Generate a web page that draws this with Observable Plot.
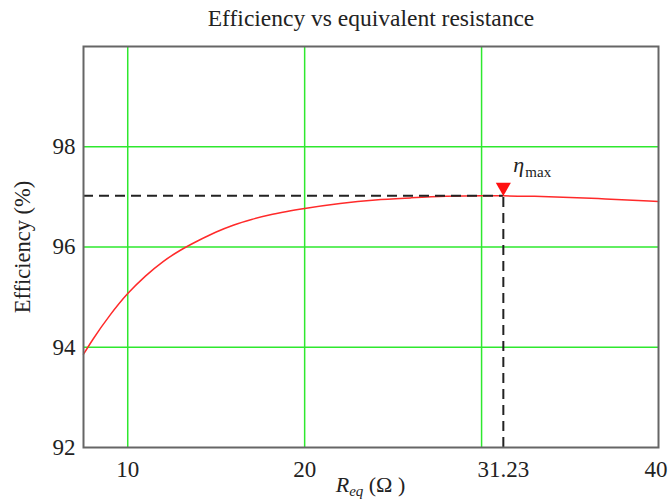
<!DOCTYPE html>
<html>
<head>
<meta charset="utf-8">
<script src="https://cdn.jsdelivr.net/npm/d3@7"></script>
<script src="https://cdn.jsdelivr.net/npm/@observablehq/plot@0.6"></script>
<style>
  body { margin: 0; background: #fff; }
  #chart svg { display: block; }
</style>
</head>
<body>
<div id="chart"></div>
<script>
// Efficiency (%) against equivalent load resistance R_eq (Ω)
const resistance = [7.5, 8, 9, 10, 11, 12, 13, 14, 15, 16, 17, 18, 19, 20, 22, 24, 26, 28, 30, 31.23, 33, 35, 37, 40];
const efficiency = [93.86, 94.14, 94.64, 95.07, 95.42, 95.71, 95.94, 96.13, 96.3, 96.44, 96.55, 96.64, 96.71, 96.77, 96.87, 96.94, 96.98, 97.01, 97.02, 97.02, 97.01, 96.99, 96.96, 96.91];

// Operating point of maximum efficiency
const peakR = 31.23;
const peakEff = 97.02;

const xTicks = [10, 20, 31.23];
const xLastTick = [40];
const xGrid = [10, 20, 30];
const yTicks = [92, 94, 96, 98];
const yGrid = [94, 96, 98];
const xDomain = [7.5, 40];
const yDomain = [92, 100];

const title = "Efficiency vs equivalent resistance";
const yLabel = "Efficiency (%)";

const curve = resistance.map((r, i) => ({r, eff: efficiency[i]}));
const peak = [{r: peakR, eff: peakEff}];

const serif = "'Liberation Serif', 'Times New Roman', serif";
const grid = "#2ee82e";

const chart = Plot.plot({
  width: 668,
  height: 501,
  marginTop: 46,
  marginBottom: 54,
  marginLeft: 83,
  marginRight: 10,
  style: {fontFamily: serif, fontSize: "23px", color: "#222", background: "#fff"},
  x: {domain: xDomain},
  y: {domain: yDomain},
  marks: [
    Plot.ruleX(xGrid, {stroke: grid, strokeWidth: 1.5}),
    Plot.ruleY(yGrid, {stroke: grid, strokeWidth: 1.5}),
    Plot.line(curve, {x: "r", y: "eff", stroke: "#ff2a2a", strokeWidth: 1.5, curve: "monotone-x"}),
    Plot.ruleY([peakEff], {x1: xDomain[0], x2: peakR, stroke: "#222", strokeWidth: 2, strokeDasharray: "10,6"}),
    Plot.ruleX([peakR], {y1: yDomain[0], y2: peakEff, stroke: "#222", strokeWidth: 2, strokeDasharray: "10,6"}),
    Plot.dot(peak, {x: "r", y: "eff", symbol: "triangle", rotate: 180, r: 5.6, fill: "#ff1010", stroke: "none", dy: -8.7}),
    Plot.text(peak, {x: "r", y: "eff", text: () => "η", fontStyle: "italic", fontSize: 22, textAnchor: "start", lineAnchor: "bottom", dx: 10, dy: -24, fill: "#222"}),
    Plot.text(peak, {x: "r", y: "eff", text: () => "max", fontSize: 15, textAnchor: "start", lineAnchor: "bottom", dx: 22, dy: -19, fill: "#222"}),
    Plot.frame({stroke: "#666", strokeWidth: 2}),
    Plot.axisX(xTicks, {tickSize: 0, tickPadding: 13, label: null, tickFormat: d => `${d}`, fontSize: 23}),
    // last label pulled in so it stays inside the page edge
    Plot.axisX(xLastTick, {tickSize: 0, tickPadding: 13, label: null, tickFormat: d => `${d}`, fontSize: 23, textAnchor: "end", dx: 9}),
    Plot.axisY(yTicks, {tickSize: 0, tickPadding: 8, label: null, tickFormat: d => `${d}`, fontSize: 23}),
    Plot.text([title], {frameAnchor: "top", dy: -28, lineAnchor: "middle", fontSize: 23.5, fill: "#222"}),
    Plot.text([yLabel], {frameAnchor: "left", dx: -61, rotate: -90, textAnchor: "middle", lineAnchor: "middle", fontSize: 22.5, fill: "#222"})
  ]
});

// x-axis title with an italic subscripted R_eq
const svg = d3.select(chart);
const xLabel = svg.append("text")
  .attr("x", (83 + 658) / 2)
  .attr("y", 492)
  .attr("text-anchor", "middle")
  .attr("font-family", serif)
  .attr("font-size", 22)
  .attr("fill", "#222");
xLabel.append("tspan").attr("font-style", "italic").text("R");
xLabel.append("tspan").attr("font-style", "italic").attr("font-size", 15).attr("dy", 4).text("eq");
xLabel.append("tspan").attr("dy", -4).text(" (Ω )");

document.getElementById("chart").append(chart);
</script>
</body>
</html>
